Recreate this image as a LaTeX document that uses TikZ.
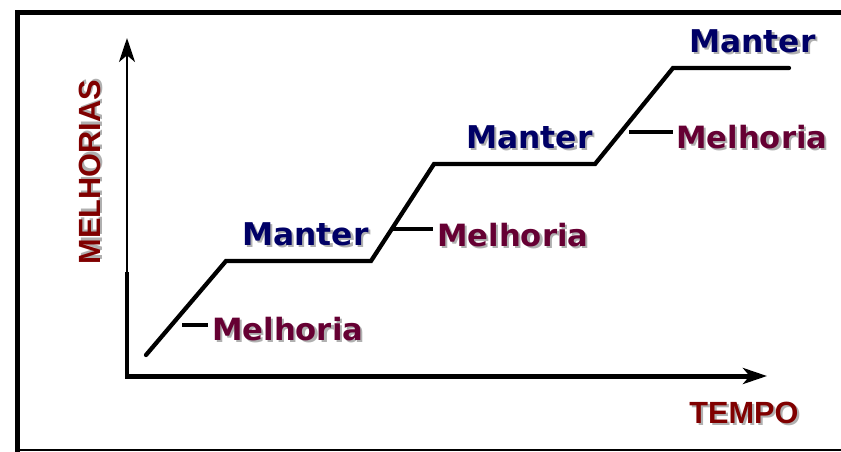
\documentclass[tikz,border=0pt]{standalone}
\usepackage{fontspec}
\setmainfont{DejaVu Sans}
\newfontfamily\axisfont{Liberation Sans}
\usetikzlibrary{arrows.meta}
\definecolor{navytext}{HTML}{000066}
\definecolor{wine}{HTML}{660033}
\definecolor{axisred}{HTML}{800000}
\definecolor{shadowgray}{HTML}{B0B0B0}
% text with a soft gray drop shadow behind it
\newcommand\shadowtext[1]{\makebox[0pt][l]{\hspace{1.6pt}\raisebox{-1.6pt}{\textcolor{shadowgray}{#1}}}#1}
\begin{document}
\begin{tikzpicture}[x=0.75pt,y=-0.75pt,
  frame/.style={line width=3.75pt,line cap=rect},
  stair/.style={line width=3.2pt,line join=miter,line cap=round},
  tick/.style={line width=3.2pt},
  axisarrow/.style={-{Stealth[length=18pt,width=12pt,inset=5pt]}},
  manter/.style={anchor=west,inner sep=0pt,text=navytext,font=\bfseries\fontsize{23.5}{28}\selectfont},
  melhoria/.style={anchor=west,inner sep=0pt,text=wine,font=\bfseries\fontsize{23}{28}\selectfont},
  axislabel/.style={inner sep=0pt,text=axisred,font=\axisfont\bfseries\fontsize{23}{28}\selectfont}]
\useasboundingbox (0,0) rectangle (841,451);
% outer frame (left and top heavy, bottom thin)
\draw[frame] (17.5,451) -- (17.5,12) -- (845,12);
\draw[line width=1pt] (15,450) -- (845,450);
% axes
\coordinate (O) at (127,376);
\coordinate (J) at (127,272);
\coordinate (Ytop) at (127,38);
\coordinate (Xend) at (767,376);
\draw[line width=3.6pt] (O) -- (J);
\draw[line width=1.9pt,axisarrow] (J) -- (Ytop);
\draw[line width=3.75pt,axisarrow,line cap=rect] (O) -- (Xend);
\node[axislabel,rotate=90] (ylab) at (91,172) {\shadowtext{MELHORIAS}};
\node[axislabel] (xlab) at (744,414) {\shadowtext{TEMPO}};
% staircase of improvements
\coordinate (p0) at (146,355);
\coordinate (p1) at (226,261);
\coordinate (p2) at (371,261);
\coordinate (p3) at (434,164);
\coordinate (p4) at (595,164);
\coordinate (p5) at (673,68);
\coordinate (p6) at (789,68);
\draw[stair] (p0) -- (p1) -- (p2) -- (p3) -- (p4) -- (p5) -- (p6);
% ticks pointing to the rising parts
\coordinate (t1a) at (182,325); \coordinate (t1b) at (208,325);
\coordinate (t2a) at (393,229); \coordinate (t2b) at (433,229);
\coordinate (t3a) at (629,132); \coordinate (t3b) at (673,132);
\draw[tick] (t1a) -- (t1b);
\draw[tick] (t2a) -- (t2b);
\draw[tick] (t3a) -- (t3b);
% labels
\node[manter] (m1) at (242,235) {\shadowtext{Manter}};
\node[manter] (m2) at (466,138) {\shadowtext{Manter}};
\node[manter] (m3) at (689,42) {\shadowtext{Manter}};
\node[melhoria] (h1) at (212,330) {\shadowtext{Melhoria}};
\node[melhoria] (h2) at (437,236) {\shadowtext{Melhoria}};
\node[melhoria] (h3) at (676,138) {\shadowtext{Melhoria}};
\end{tikzpicture}
\end{document}
